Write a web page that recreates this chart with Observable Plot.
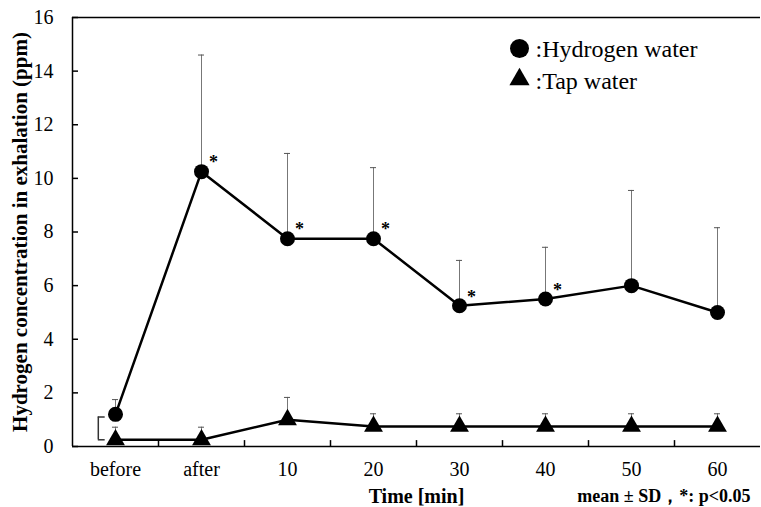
<!DOCTYPE html>
<html><head><meta charset="utf-8">
<script src="https://cdn.jsdelivr.net/npm/d3@7"></script>
<script src="https://cdn.jsdelivr.net/npm/@observablehq/plot@0.6"></script>
<style>body{margin:0;background:#fff} svg{display:block}</style>
</head><body><div id="chart"></div>
<script>
const categories = ["before", "after", "10", "20", "30", "40", "50", "60"];
const hydrogenMean = [1.2, 10.25, 7.75, 7.75, 5.25, 5.5, 6.0, 5.0];
const hydrogenSD = [0.55, 4.35, 3.18, 2.65, 1.69, 1.93, 3.55, 3.16];
const tapMean = [0.25, 0.25, 1.0, 0.75, 0.75, 0.75, 0.75, 0.75];
const tapSD = [0.47, 0.47, 0.83, 0.47, 0.47, 0.47, 0.47, 0.47];
const significant = [false, true, true, true, true, true, false, false];
const yTicks = [0, 2, 4, 6, 8, 10, 12, 14, 16];
const legendItems = ["Hydrogen water", "Tap water"];
const bracketRange = [1.1, 0.25];
const yLabel = "Hydrogen concentration in exhalation (ppm)";
const xLabel = "Time [min]";
const note = "mean ± SD，*: p<0.05";

const hyd = categories.map((c, i) => ({i, c, mean: hydrogenMean[i], sd: hydrogenSD[i], sig: significant[i]}));
const tap = categories.map((c, i) => ({i, c, mean: tapMean[i], sd: tapSD[i]}));
const boundaries = categories.slice(1).map((c, i) => i + 0.5);

const capHalf = 0.035;
const chart = Plot.plot({
  width: 761, height: 507,
  marginLeft: 72, marginRight: 1, marginTop: 17, marginBottom: 61,
  x: {type: "linear", domain: [-0.5, categories.length - 0.5]},
  y: {domain: [0, 16]},
  style: {fontFamily: "'Liberation Serif', 'Times New Roman', serif", fontSize: "20px", color: "#000", background: "#fff"},
  marks: [
    Plot.ruleX([-0.5], {stroke: "#000", strokeWidth: 1.5}),
    Plot.ruleY([0], {stroke: "#000", strokeWidth: 1.5}),
    Plot.ruleY([16], {stroke: "#000", strokeWidth: 1.5}),
    Plot.ruleY(yTicks, {y: d => d, x1: -0.5, x2: -0.5 + 0.07, stroke: "#000", strokeWidth: 1.5}),
    Plot.ruleX(boundaries, {x: d => d, y1: 0, y2: 0.22, stroke: "#000", strokeWidth: 1.5}),
    Plot.axisY({ticks: yTicks, tickSize: 0, tickPadding: 19, label: null, tickFormat: d => d}),
    Plot.axisX({ticks: categories.map((c, i) => i), tickSize: 0, tickPadding: 15, label: null, tickFormat: i => categories[i]}),
    // error bars
    Plot.ruleX(hyd, {x: "i", y1: "mean", y2: d => d.mean + d.sd, stroke: "#777", strokeWidth: 1}),
    Plot.ruleY(hyd, {y: d => d.mean + d.sd, x1: d => d.i - capHalf, x2: d => d.i + capHalf, stroke: "#555", strokeWidth: 1}),
    Plot.ruleX(tap, {x: "i", y1: "mean", y2: d => d.mean + d.sd, stroke: "#777", strokeWidth: 1}),
    Plot.ruleY(tap, {y: d => d.mean + d.sd, x1: d => d.i - capHalf, x2: d => d.i + capHalf, stroke: "#555", strokeWidth: 1}),
    // lines
    Plot.line(hyd, {x: "i", y: "mean", stroke: "#000", strokeWidth: 2.5}),
    Plot.line(tap, {x: "i", y: "mean", stroke: "#000", strokeWidth: 2.5}),
    Plot.dot(hyd, {x: "i", y: "mean", r: 7.5, fill: "#000", stroke: "none"}),
    Plot.dot(tap, {x: "i", y: "mean", symbol: "triangle", r: 7, fill: "#000", stroke: "none"}),
    Plot.text(hyd.filter(d => d.sig), {x: "i", y: "mean", text: () => "*", dx: 12, dy: -9, fontSize: 18, fontWeight: "bold"}),
    // bracket
    Plot.ruleX([0], {x: () => -0.2, y1: bracketRange[0], y2: bracketRange[1], stroke: "#333", strokeWidth: 1.5}),
    Plot.ruleY(bracketRange, {y: d => d, x1: -0.2, x2: -0.12, stroke: "#333", strokeWidth: 1.5}),
    // legend
    Plot.dot([legendItems[0]], {frameAnchor: "top-left", dx: 447, dy: 31, r: 9.5, fill: "#000", stroke: "none"}),
    Plot.dot([legendItems[1]], {frameAnchor: "top-left", dx: 447, dy: 62, r: 7.5, symbol: "triangle", fill: "#000", stroke: "none"}),
    Plot.text([legendItems[0]], {frameAnchor: "top-left", text: d => ":" + d, dx: 463, dy: 32, textAnchor: "start", lineAnchor: "middle", fontSize: 24}),
    Plot.text([legendItems[1]], {frameAnchor: "top-left", text: d => ":" + d, dx: 463, dy: 64, textAnchor: "start", lineAnchor: "middle", fontSize: 24}),
    // labels
    Plot.text([yLabel], {frameAnchor: "left", dx: -52, rotate: -90, textAnchor: "middle", lineAnchor: "middle", fontWeight: "bold", fontSize: 21}),
    Plot.text([xLabel], {frameAnchor: "bottom", dy: 50, textAnchor: "middle", lineAnchor: "middle", fontWeight: "bold", fontSize: 20}),
    Plot.text([note], {frameAnchor: "bottom-right", textAnchor: "end", lineAnchor: "middle", dx: -10, dy: 50, fontWeight: "bold", fontSize: 18})
  ]
});
document.getElementById("chart").appendChild(chart);
</script>
</body></html>
